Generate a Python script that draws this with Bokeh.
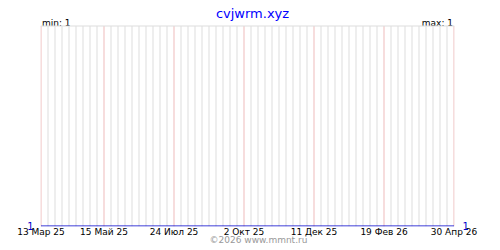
import pandas as pd
from bokeh.plotting import figure
from bokeh.models import Range1d, FixedTicker, LinearAxis, Span, Title
from bokeh.core.properties import value
from bokeh.embed import file_html
from bokeh.resources import INLINE

title_text = "cvjwrm.xyz"
start_date = "2025-03-13"
end_date = "2026-04-30"
series_dates = ["2025-03-13", "2026-04-30"]
series_values = [1, 1]
tick_dates = ["2025-03-13", "2025-05-15", "2025-07-24", "2025-10-02",
              "2025-12-11", "2026-02-19", "2026-04-30"]
tick_labels = ["13 Мар 25", "15 Май 25", "24 Июл 25", "2 Окт 25",
               "11 Дек 25", "19 Фев 26", "30 Апр 26"]
y_min_value = 1
y_max_value = 1
footer_text = "©2026 www.mmnt.ru"

t0 = pd.Timestamp(start_date)
def day(d):
    return (pd.Timestamp(d) - t0).days

x_end = day(end_date)
xs = [day(d) for d in series_dates]
tick_pos = [day(d) for d in tick_dates]
week_pos = list(range(0, x_end + 1, 7))

FONT = "DejaVu Sans"
y_lo = y_min_value - 0.0025
y_top = y_max_value + 1
y_hi = y_lo + 226 / 200

p = figure(width=500, height=250, output_backend="svg", toolbar_location=None,
           x_range=Range1d(-0.5, x_end + 0.5), y_range=Range1d(y_lo, y_hi),
           min_border_left=40, min_border_right=46, min_border_top=0,
           min_border_bottom=24, x_axis_type=None, y_axis_type=None)
p.outline_line_color = None
p.background_fill_color = "white"
p.border_fill_color = "white"

# vertical grid: weekly grey, labelled dates pink
p.segment(x0=week_pos, y0=[y_lo] * len(week_pos), x1=week_pos, y1=[y_top] * len(week_pos),
          line_color="#dddddd", line_width=1)
p.segment(x0=tick_pos, y0=[y_lo] * len(tick_pos), x1=tick_pos, y1=[y_top] * len(tick_pos),
          line_color="#ffcccc", line_width=1)
p.add_layout(Span(location=y_top, dimension="width", line_color="#dddddd", line_width=1))

xa = LinearAxis(ticker=FixedTicker(ticks=tick_pos),
                major_label_overrides={t: l for t, l in zip(tick_pos, tick_labels)})
xa.axis_line_color = None
xa.major_tick_line_color = None
xa.minor_tick_line_color = None
xa.major_tick_out = 0
xa.major_tick_in = 0
xa.major_label_standoff = 0
xa.major_label_text_font = FONT
xa.major_label_text_font_size = "9px"
xa.major_label_text_color = "black"
p.add_layout(xa, "below")

p.add_layout(Title(text=footer_text, align="left", offset=169, standoff=-9,
                   vertical_align="top",
                   text_font=FONT, text_font_size="9px", text_font_style="normal",
                   text_color="#999999"), "below")

for side, so in (("left", 7), ("right", 8)):
    ya = LinearAxis(ticker=FixedTicker(ticks=[y_min_value]))
    ya.axis_line_color = None
    ya.major_tick_line_color = None
    ya.minor_tick_line_color = None
    ya.major_tick_out = 0
    ya.major_tick_in = 0
    ya.major_label_standoff = so
    ya.major_label_text_font = FONT
    ya.major_label_text_font_size = "10px"
    ya.major_label_text_color = "#0000cc"
    p.add_layout(ya, side)

p.line(xs, series_values, line_color="#0000cc", line_width=1)

p.text(x=[x_end / 2], y=[y_top], text=[title_text], x_offset=5, y_offset=-13,
       text_align="center", text_baseline="alphabetic", text_font=value(FONT),
       text_font_size="13px", text_color="#0000ff")
p.text(x=[0], y=[y_top], text=["min: %d" % y_min_value], x_offset=1, y_offset=-3,
       text_align="left", text_baseline="alphabetic", text_font=value(FONT),
       text_font_size="9px", text_color="black")
p.text(x=[x_end], y=[y_top], text=["max: %d" % y_max_value], x_offset=-1, y_offset=-3,
       text_align="right", text_baseline="alphabetic", text_font=value(FONT),
       text_font_size="9px", text_color="black")

open("out.html", "w").write(file_html(p, INLINE))
